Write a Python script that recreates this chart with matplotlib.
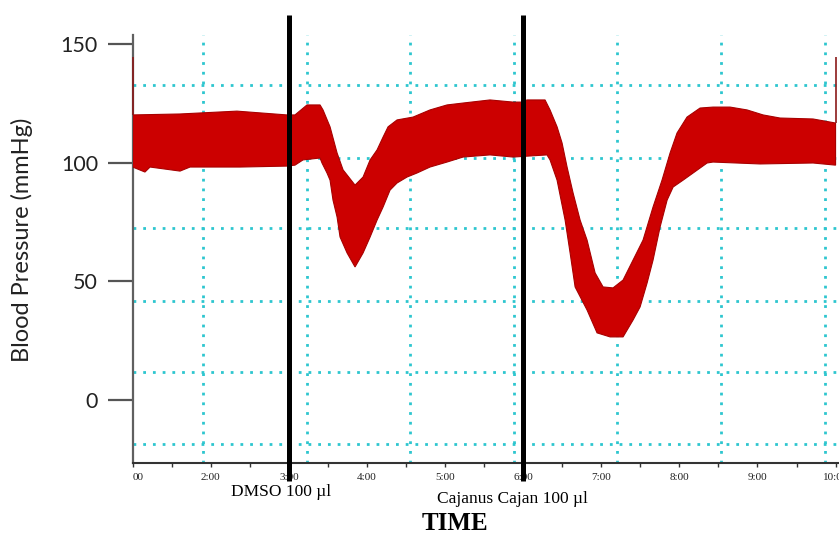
import numpy as np
import matplotlib
matplotlib.use("Agg")
import matplotlib.pyplot as plt
from matplotlib.ticker import MultipleLocator

# ---- data (time in minutes, pressure in mmHg) ----
upper_t = [1.0, 1.606, 2.335, 2.976, 3.078, 3.232, 3.399, 3.437, 3.527, 3.617,
           3.694, 3.847, 3.950, 4.040, 4.129, 4.206, 4.270, 4.385, 4.590, 4.807,
           5.025, 5.230, 5.575, 5.870, 5.985, 6.049, 6.280, 6.344, 6.434, 6.498,
           6.562, 6.639, 6.729, 6.818, 6.921, 7.023, 7.151, 7.279, 7.407, 7.535,
           7.663, 7.778, 7.881, 7.970, 8.098, 8.265, 8.431, 8.649, 8.867, 9.072,
           9.289, 9.712, 10.0]
upper_v = [120.0, 120.4, 121.6, 120.0, 120.0, 124.2, 124.2, 122.1, 115.0, 104.0,
           96.9, 90.5, 93.9, 101.1, 105.3, 110.7, 115.0, 117.9, 119.1, 122.1,
           124.2, 125.0, 126.3, 125.4, 125.4, 126.3, 126.3, 122.1, 115.0, 108.2,
           98.1, 87.2, 75.8, 67.4, 53.6, 47.7, 47.3, 50.6, 59.0, 67.4,
           81.3, 92.6, 104.0, 112.4, 119.1, 122.9, 123.3, 123.3, 122.1, 120.0,
           118.7, 118.3, 116.6]
lower_t = [1.0, 1.157, 1.222, 1.606, 1.734, 2.374, 2.976, 3.078, 3.181, 3.399,
           3.424, 3.488, 3.527, 3.565, 3.617, 3.655, 3.745, 3.847, 3.950, 4.040,
           4.129, 4.206, 4.295, 4.385, 4.513, 4.641, 4.807, 5.025, 5.230, 5.575,
           5.870, 6.305, 6.344, 6.434, 6.537, 6.601, 6.665, 6.818, 6.946, 7.113,
           7.279, 7.407, 7.497, 7.587, 7.663, 7.753, 7.843, 7.920, 8.048, 8.176,
           8.355, 8.431, 9.033, 9.712, 10.0]
lower_v = [98.1, 96.0, 98.1, 96.4, 98.1, 98.1, 98.5, 98.9, 101.1, 101.9,
           99.8, 95.6, 92.6, 84.2, 77.1, 68.7, 62.0, 56.1, 62.0, 68.7,
           75.8, 81.3, 88.4, 91.4, 93.9, 95.6, 98.1, 100.2, 102.3, 103.2,
           102.3, 103.2, 101.1, 92.6, 75.8, 62.0, 47.7, 38.0, 28.4, 26.7,
           26.7, 33.8, 39.3, 49.4, 59.0, 72.9, 84.2, 89.7, 92.6, 95.6,
           99.8, 100.2, 99.4, 99.8, 98.9]
spike_t = [1.0, 10.0]
spike_base = [120.0, 116.6]
spike_top = [144.3, 144.3]

event_t = [3.0, 6.0]
event_labels = ["DMSO 100 µl", "Cajanus Cajan 100 µl"]

xtick_pos = [1, 2, 3, 4, 5, 6, 7, 8, 9, 10]
xtick_labels = ["00", "2:00", "3:00", "4:00", "5:00", "6:00", "7:00", "8:00", "9:00", "10:00"]
ytick_pos = [0, 50, 100, 150]
ytick_labels = ["0", "50", "100", "150"]
grid_y = [132.6, 101.9, 72.5, 41.8, 12.0, -18.3]
grid_x = [1.90, 3.23, 4.55, 5.88, 7.20, 8.53, 9.86]

# ---- figure ----
W, H = 839, 534
fig = plt.figure(figsize=(W / 100, H / 100), dpi=100)
ax = fig.add_axes([132.7 / W, 1 - 463 / H, 1 - 132.7 / W, (463 - 35) / H])
ax.set_xlim(1, 10.044)
ax.set_ylim(-26.3, 153.6)

grid_color = "#2ec6cf"
for gy in grid_y:
    ax.axhline(gy, color=grid_color, lw=2.0, ls=(0, (1, 2.5)), zorder=1)
for gx in grid_x:
    ax.axvline(gx, color=grid_color, lw=2.0, ls=(0, (1, 2.5)), zorder=1)

poly_t = np.concatenate([upper_t, lower_t[::-1]])
poly_v = np.concatenate([upper_v, lower_v[::-1]])
ax.fill(poly_t, poly_v, facecolor="#cc0000", edgecolor="#a80000", lw=0.8, zorder=3)
ax.vlines(spike_t, spike_base, spike_top, colors="#8b1a1a", lw=1.2, zorder=3, clip_on=False)

ax.vlines(event_t, -34.0, 162.0, colors="black", lw=3.6, zorder=6, clip_on=False)

for s in ["top", "right"]:
    ax.spines[s].set_visible(False)
ax.spines["left"].set_color("#606060")
ax.spines["left"].set_linewidth(1.6)
ax.spines["bottom"].set_color("#333333")
ax.spines["bottom"].set_linewidth(1.5)

ax.set_yticks(ytick_pos)
ax.set_yticklabels(ytick_labels, fontfamily="Lato", fontsize=15.5, color="#222222")
ax.tick_params(axis="y", length=18, width=1.6, color="#555555", pad=7)

ax.set_xticks(xtick_pos)
ax.set_xticklabels(xtick_labels, fontfamily="Liberation Serif", fontsize=8, color="#222222")
ax.xaxis.set_minor_locator(MultipleLocator(0.5))
ax.tick_params(axis="x", which="both", length=3, width=1, color="#333333", pad=4)
ax.get_xticklabels()[0].set_ha("left")

fig.text(22 / W, 1 - 240 / H, "Blood Pressure (mmHg)", rotation=90, family="Lato",
         fontsize=17, ha="center", va="center", color="#222222")
fig.text(281 / W, 1 - 492 / H, event_labels[0], family="Liberation Serif",
         fontsize=12.5, ha="center", va="center")
fig.text(512 / W, 1 - 499 / H, event_labels[1], family="Liberation Serif",
         fontsize=12.5, ha="center", va="center")
fig.text(455 / W, 1 - 523 / H, "TIME", family="Liberation Serif", fontweight="bold",
         fontsize=18, ha="center", va="center")

fig.savefig("out.png", dpi=100)
